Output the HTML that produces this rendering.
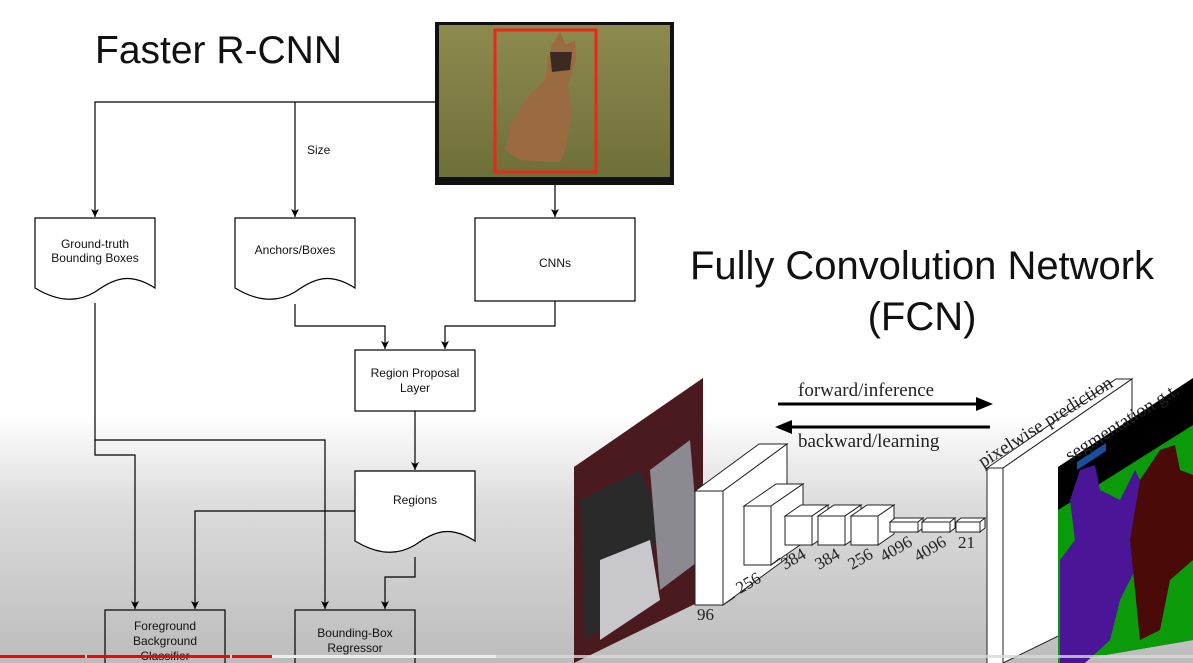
<!DOCTYPE html>
<html><head><meta charset="utf-8"><style>
html,body{margin:0;padding:0;}
body{width:1193px;height:663px;overflow:hidden;background:linear-gradient(to bottom,#fff 0,#fff 415px,#dcdcdc 505px,#bcbcbc 663px);}
svg{display:block}
.t{font-family:"Liberation Sans",sans-serif;font-size:12px;fill:#111;text-anchor:middle}
.s{font-family:"Liberation Serif",serif;font-size:19px;fill:#222}
.n{font-family:"Liberation Serif",serif;font-size:17px;fill:#222}
</style></head><body>
<svg width="1193" height="663" viewBox="0 0 1193 663">
<defs>
<marker id="a" markerWidth="8" markerHeight="8" refX="8" refY="4" orient="auto" markerUnits="userSpaceOnUse" viewBox="0 0 8 8"><path d="M0,0 L8,4 L0,8 L2,4 Z" fill="#000"/></marker>
<linearGradient id="grass" x1="0" y1="0" x2="0" y2="1"><stop offset="0" stop-color="#8d8a4e"/><stop offset="0.6" stop-color="#7b7a42"/><stop offset="1" stop-color="#6d7038"/></linearGradient>
</defs>
<text x="95" y="63" font-family="Liberation Sans,sans-serif" font-size="39" fill="#111">Faster R-CNN</text>
<rect x="435" y="22" width="239" height="163" fill="#111"/>
<rect x="439" y="25" width="231" height="152" fill="url(#grass)"/>
<path d="M552,45 L560,32 L566,45 L575,40 L576,60 L568,85 L572,112 L566,148 L560,162 L545,162 L520,160 L505,150 L510,125 L525,100 L545,80 L548,60 Z" fill="#9a6a40"/>
<path d="M550,52 L572,52 L570,70 L552,72 Z" fill="#3a2a20"/>
<rect x="495" y="30" width="101" height="142" fill="none" stroke="#e8281a" stroke-width="3"/>
<g stroke="#000" stroke-width="1.2" fill="none">
<path d="M435,102 H95 V217" marker-end="url(#a)"/>
<path d="M295,102 V217" marker-end="url(#a)"/>
<path d="M555,185 V217" marker-end="url(#a)"/>
<path d="M35,218 H155 V288 C130,272 115,278 95,292 C75,304 55,300 35,288 Z" fill="#fff"/>
<path d="M235,218 H355 V288 C330,272 315,278 295,292 C275,304 255,300 235,288 Z" fill="#fff"/>
<rect x="475" y="218" width="160" height="83" fill="#fff"/>
<path d="M295,304 V326 H385 V349" marker-end="url(#a)"/>
<path d="M555,301 V326 H445 V349" marker-end="url(#a)"/>
<rect x="355" y="350" width="120" height="61" fill="#fff"/>
<path d="M415,411 V470" marker-end="url(#a)"/>
<path d="M95,303 V440 H325 V609" marker-end="url(#a)"/>
<path d="M95,440 V455 H135 V609" marker-end="url(#a)"/>
<path d="M355,471 H475 V541 C450,525 435,531 415,545 C395,557 375,553 355,541 Z" fill="#fff"/>
<path d="M355,511 H195 V609" marker-end="url(#a)"/>
<path d="M415,557 V577 H385 V609" marker-end="url(#a)"/>
<rect x="105" y="610" width="120" height="70"/>
<rect x="295" y="610" width="120" height="70"/>
</g>
<text x="307" y="154" font-family="Liberation Sans,sans-serif" font-size="12" fill="#111">Size</text>
<text class="t" x="95" y="248">Ground-truth</text>
<text class="t" x="95" y="262">Bounding Boxes</text>
<text class="t" x="295" y="254">Anchors/Boxes</text>
<text class="t" x="555" y="267">CNNs</text>
<text class="t" x="415" y="377">Region Proposal</text>
<text class="t" x="415" y="392">Layer</text>
<text class="t" x="415" y="504">Regions</text>
<text class="t" x="165" y="630">Foreground</text>
<text class="t" x="165" y="645">Background</text>
<text class="t" x="165" y="660">Classifier</text>
<text class="t" x="355" y="637">Bounding-Box</text>
<text class="t" x="355" y="652">Regressor</text>
<text x="922" y="279" text-anchor="middle" font-family="Liberation Sans,sans-serif" font-size="40" fill="#111" textLength="464">Fully Convolution Network</text>
<text x="922" y="330" text-anchor="middle" font-family="Liberation Sans,sans-serif" font-size="40" fill="#111">(FCN)</text>
<polygon points="574,467 703,378 703,600 574,663" fill="#4a1a1e"/>
<polygon points="580,500 640,470 660,520 640,600 585,640" fill="#2a2a2a"/>
<polygon points="650,470 690,440 700,560 660,590" fill="#8a8a90"/>
<polygon points="600,560 650,540 660,600 600,640" fill="#c8c8cc"/>
<g stroke="#222" stroke-width="1" fill="#fff">
<polygon points="695,491 759,444 787,444 723,491"/><polygon points="723,491 787,444 787,558 723,605"/><rect x="695" y="491" width="28" height="114"/>
<polygon points="744,506 776,484 803,484 771,506"/><polygon points="771,506 803,484 803,543 771,565"/><rect x="744" y="506" width="27" height="59"/>
<g id="b3"><polygon points="785,516 801,505 828,505 812,516"/><polygon points="812,516 828,505 828,534 812,545"/><rect x="785" y="516" width="27" height="29"/></g>
<use href="#b3" x="33"/><use href="#b3" x="66"/>
<g id="b4"><polygon points="890,522 895,518 923,518 918,522"/><polygon points="918,522 923,518 923,528 918,532"/><rect x="890" y="522" width="28" height="10"/></g>
<use href="#b4" x="32"/><polygon points="956,522 961,518 985,518 980,522"/><polygon points="980,522 985,518 985,528 980,532"/><rect x="956" y="522" width="24" height="10"/>
<polygon points="987,468 1116,379 1132,379 1003,468"/><polygon points="1003,468 1132,379 1132,600 1003,663"/><rect x="987" y="468" width="16" height="200"/>
</g>
<path d="M723,605 L735,597 M771,565 L780,558" stroke="#222"/>
<polygon points="1058,467 1193,378 1193,640 1058,663" fill="#000"/>
<polygon points="1058,510 1193,425 1193,640 1058,663" fill="#0a9a0a"/>
<path d="M1070,500 L1080,470 L1095,465 L1100,490 L1120,500 L1135,470 L1145,490 L1140,560 L1120,600 L1110,640 L1085,663 L1060,663 L1060,560 L1075,540 Z" fill="#4a1596"/>
<path d="M1140,480 L1160,450 L1175,445 L1180,470 L1193,475 L1193,560 L1170,580 L1160,630 L1140,640 L1135,590 L1130,540 Z" fill="#4a0a08"/>
<polygon points="1077,462 1106,443 1106,451 1077,470" fill="#1a4fa0"/>
<path d="M778,404 H980" stroke="#000" stroke-width="3"/><path d="M993,404 L976,397 L976,411 Z" fill="#000"/>
<path d="M990,427 H788" stroke="#000" stroke-width="3"/><path d="M775,427 L792,420 L792,434 Z" fill="#000"/>
<text class="s" x="798" y="396">forward/inference</text>
<text class="s" x="798" y="447">backward/learning</text>
<text class="s" transform="translate(983,468) rotate(-32)">pixelwise prediction</text>
<text class="s" transform="translate(1070,462) rotate(-32)">segmentation g.t.</text>
<text class="n" x="697" y="620">96</text>
<text class="n" transform="translate(740,594) rotate(-30)">256</text>
<text class="n" transform="translate(785,570) rotate(-30)">384</text>
<text class="n" transform="translate(819,570) rotate(-30)">384</text>
<text class="n" transform="translate(852,570) rotate(-30)">256</text>
<text class="n" transform="translate(884,562) rotate(-30)">4096</text>
<text class="n" transform="translate(918,562) rotate(-30)">4096</text>
<text class="n" x="958" y="548">21</text>
<rect x="0" y="655" width="1193" height="3" fill="#d8d8d8" opacity="0.8"/>
<rect x="0" y="655" width="85" height="3" fill="#f00"/>
<rect x="87" y="655" width="143" height="3" fill="#f00"/>
<rect x="232" y="655" width="40" height="3" fill="#f00"/>
<rect x="272" y="655" width="224" height="3" fill="#eee"/>
</svg>
</body></html>
